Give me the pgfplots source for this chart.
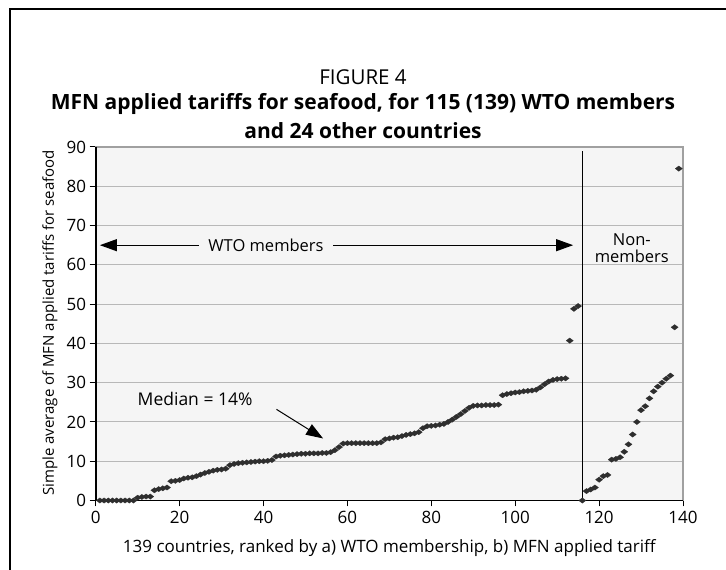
\documentclass[border=0pt]{standalone}
\usepackage{fontspec}
\setmainfont{Open Sans}
\usepackage{pgfplots}
\usepackage{pgfplotstable}
\pgfplotsset{compat=1.18}
\usetikzlibrary{arrows.meta}
\definecolor{plotbg}{HTML}{F5F5F5}
\definecolor{gridc}{HTML}{B8B8B8}
\definecolor{borderc}{HTML}{A0A0A0}
\definecolor{markc}{HTML}{2E2E2E}

\pgfplotstableread{
x y
1 0
2 0
3 0
4 0
5 0
6 0
7 0
8 0
9 0
10 0.7
11 0.9
12 1.0
13 1.0
14 2.6
15 2.9
16 3.1
17 3.3
18 4.9
19 5.0
20 5.2
21 5.6
22 5.8
23 5.9
24 6.2
25 6.6
26 7.0
27 7.3
28 7.6
29 7.8
30 7.9
31 8.1
32 9.0
33 9.3
34 9.5
35 9.6
36 9.7
37 9.8
38 9.9
39 10.0
40 10.0
41 10.1
42 10.3
43 11.2
44 11.4
45 11.5
46 11.6
47 11.7
48 11.8
49 11.9
50 11.9
51 12.0
52 12.0
53 12.0
54 12.1
55 12.1
56 12.3
57 12.8
58 13.6
59 14.5
60 14.6
61 14.6
62 14.6
63 14.6
64 14.6
65 14.6
66 14.6
67 14.6
68 14.8
69 15.6
70 15.8
71 16.0
72 16.1
73 16.4
74 16.7
75 16.9
76 17.1
77 17.4
78 18.4
79 18.9
80 19.0
81 19.1
82 19.3
83 19.5
84 20.0
85 20.6
86 21.3
87 22.0
88 22.8
89 23.6
90 24.1
91 24.2
92 24.2
93 24.3
94 24.3
95 24.3
96 24.4
97 26.8
98 27.1
99 27.3
100 27.5
101 27.6
102 27.8
103 27.9
104 28.0
105 28.2
106 28.8
107 29.6
108 30.3
109 30.7
110 30.9
111 31.0
112 31.1
113 40.7
114 48.8
115 49.5
}\wto

\pgfplotstableread{
x y
116 0
117 2.4
118 2.8
119 3.3
120 5.3
121 6.2
122 6.5
123 10.4
124 10.6
125 11.0
126 12.4
127 14.3
128 16.8
129 20.0
130 23.0
131 24.0
132 26.0
133 27.8
134 29.0
135 30.0
136 31.0
137 31.8
138 44.1
139 84.5
}\nonwto

\begin{document}
\begin{tikzpicture}[x=1pt,y=1pt]
\useasboundingbox (0,0) rectangle (726,570);
\fill[white] (0,0) rectangle (726,570);
\draw[line width=1.6pt] (10,-2) -- (10,561) -- (728,561);
\node[font=\fontsize{20.5}{24}\selectfont] at (363,493) {FIGURE 4};
\node[font=\bfseries\fontsize{21}{24}\selectfont] at (363,466) {MFN applied tariffs for seafood, for 115 (139) WTO members};
\node[font=\bfseries\fontsize{21}{24}\selectfont] at (363,439) {and 24 other countries};
\begin{axis}[
  at={(95.7pt,69.5pt)}, anchor=south west, scale only axis,
  width=587.3pt, height=353.5pt,
  xmin=0, xmax=140, ymin=0, ymax=90,
  xtick={0,20,...,140}, ytick={0,10,...,90},
  tick pos=left, tick align=outside, major tick length=6pt,
  tick style={black, line width=1pt},
  ymajorgrids, grid style={gridc, line width=0.9pt},
  axis line style={borderc, line width=1.6pt},
  axis background/.style={fill=plotbg},
  ticklabel style={font=\fontsize{17}{20}\selectfont},
  xticklabel style={yshift=-1pt},
  /pgf/number format/assume math mode=true,
  clip=false,
]
\draw[black, line width=1.6pt] (rel axis cs:0,1) -- (rel axis cs:0,0) -- (rel axis cs:1,0);
\draw[black, line width=1.2pt] (axis cs:116,0) -- (axis cs:116,89);
\draw[black, line width=1pt, {Triangle[length=17pt,width=12pt]}-{Triangle[length=17pt,width=12pt]}] (axis cs:1,65) -- (axis cs:113.8,65);
\node[fill=plotbg, inner xsep=9pt, font=\fontsize{16.5}{20}\selectfont] at (axis cs:40.6,65) {WTO members};
\node[align=center, font=\fontsize{16.5}{17}\selectfont] at (axis cs:127.8,64.2) {Non-\\members};
\node[font=\fontsize{17.5}{20}\selectfont] at (axis cs:23.7,25.9) {Median = 14\%};
\draw[black, line width=1pt, -{Triangle[length=17pt,width=12pt]}] (axis cs:43.1,23.2) -- (axis cs:54.2,15.8);
\addplot[only marks, mark=diamond*, mark size=3.6pt, mark options={rotate=90, fill=markc, draw=markc, line width=0.2pt}] table {\wto};
\addplot[only marks, mark=diamond*, mark size=3.6pt, mark options={rotate=90, fill=markc, draw=markc, line width=0.2pt}] table {\nonwto};
\end{axis}
\node[rotate=90, font=\fontsize{15}{17}\selectfont] at (50,247) {Simple average of MFN applied tariffs for seafood};
\node[font=\fontsize{17}{19}\selectfont] at (389.3,22) {139 countries, ranked by a) WTO membership, b) MFN applied tariff};
\end{tikzpicture}
\end{document}
